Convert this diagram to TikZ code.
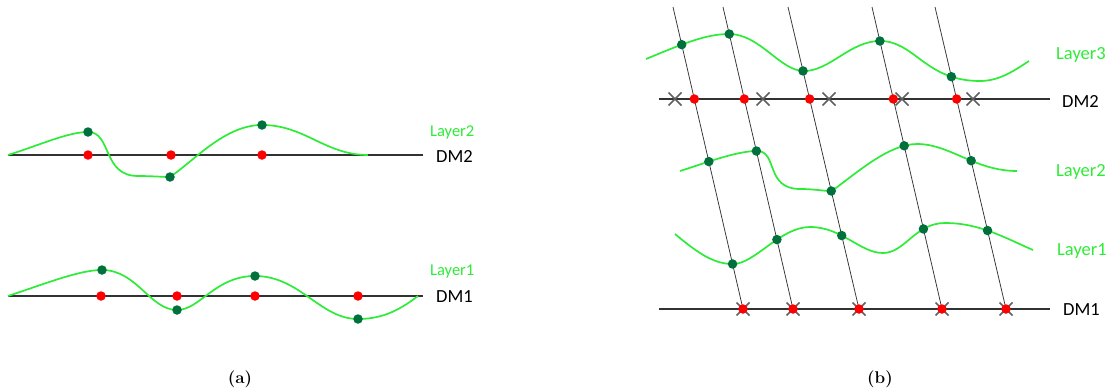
\documentclass[tikz,border=0pt]{standalone}
\usepackage{fontspec}
\newfontfamily\labelfont{Carlito}
\usetikzlibrary{intersections}

\definecolor{curvegreen}{RGB}{45,236,55}
\definecolor{dotgreen}{RGB}{0,112,60}
\definecolor{axisgray}{RGB}{50,50,50}
\definecolor{crossgray}{RGB}{95,95,95}

\tikzset{
  dmline/.style={draw=axisgray, line width=1.8pt},
  ray/.style={draw=axisgray, line width=0.75pt},
  layer/.style={draw=curvegreen, line width=1.7pt},
  gdot/.style={circle, fill=dotgreen, inner sep=0pt, minimum size=9.5pt},
  rdot/.style={circle, fill=red, inner sep=0pt, minimum size=9.5pt},
  xmark/.style={draw=crossgray, line width=1.5pt},
  xcross/.pic={\path[xmark] (-6.5,-6.5) -- (6.5,6.5) (-6.5,6.5) -- (6.5,-6.5);},
  laytext/.style={anchor=west, inner sep=0pt, text=curvegreen, font=\labelfont},
  dmtext/.style={anchor=west, inner sep=0pt, text=black, font=\labelfont},
  small/.style={font=\labelfont\fontsize{16.5}{19}\selectfont},
  large/.style={font=\labelfont\fontsize{18.5}{22}\selectfont},
  dmsize/.style={font=\labelfont\fontsize{18.5}{22}\selectfont},
  captext/.style={inner sep=0pt, font=\fontsize{17}{20}\selectfont\bfseries}
}

% dots where ray #1 meets DM2, DM1 and the three layers
\newcommand\raydots[1]{%
  \path[name intersections={of=ray#1 and bdm2, by={m2#1}}];
  \node[rdot] (br2#1) at (m2#1) {};
  \node[rdot] (br1#1) at (bot#1) {};
  \path[name intersections={of=ray#1 and lay3, by={g3#1}}];
  \node[gdot] (bg3#1) at (g3#1) {};
  \path[name intersections={of=ray#1 and lay2, by={g2#1}}];
  \node[gdot] (bg2#1) at (g2#1) {};
  \path[name intersections={of=ray#1 and lay1, by={g1#1}}];
  \node[gdot] (bg1#1) at (g1#1) {};
}

\begin{document}
\begin{tikzpicture}[x=1pt, y=-1pt]
\useasboundingbox (0,0) rectangle (1112,391);

% ---------------- panel (a) ----------------
\path[dmline] (8,155) coordinate (a2s) -- (423,155) coordinate (a2e);
\path[dmline] (8,296) coordinate (a1s) -- (423,296) coordinate (a1e);

% layer 2 over DM2
\path[layer] (8,155) .. controls (40,145) and (68,132) .. (88,132)
  .. controls (112,132) and (102,176) .. (138,176)
  .. controls (152,176) and (162,177) .. (170,177)
  .. controls (195,160) and (225,125) .. (262,125)
  .. controls (305,125) and (325,155) .. (368,155);

% layer 1 over DM1
\path[layer] (8,296) .. controls (50,282) and (80,270) .. (102,270)
  .. controls (137,270) and (150,310) .. (177,310)
  .. controls (200,310) and (215,276) .. (255,276)
  .. controls (300,276) and (320,319) .. (358,319)
  .. controls (385,319) and (402,308) .. (418,296);

\foreach \x [count=\i] in {88,171,262} \node[rdot] (ar2\i) at (\x,155) {};
\foreach \x [count=\i] in {101,177,255,358} \node[rdot] (ar1\i) at (\x,296) {};
\foreach \p [count=\i] in {{(88,132)},{(170,177)},{(262,125)}} \node[gdot] (ag2\i) at \p {};
\foreach \p [count=\i] in {{(102,270)},{(177,310)},{(255,276)},{(358,319)}} \node[gdot] (ag1\i) at \p {};

\node[laytext, small] (aL2) at (430,132) {Layer2};
\node[dmtext, dmsize] (aD2) at (436,156) {DM2};
\node[laytext, small] (aL1) at (430,272) {Layer1};
\node[dmtext, dmsize] (aD1) at (436,297) {DM1};

\node[captext] (capa) at (240,379) {(a)};

% ---------------- panel (b) ----------------
\path[dmline, name path=bdm2] (659,99) coordinate (b2s) -- (1050,99) coordinate (b2e);
\path[dmline] (659,309) coordinate (b1s) -- (1050,309) coordinate (b1e);

% slanted rays, each ending on DM1
\foreach \t/\b [count=\i] in {673/743, 723/793, 788/859, 872/942, 935/1006} {
  \coordinate (top\i) at (\t,7);
  \coordinate (bot\i) at (\b,309);
  \path[ray, name path global=ray\i] (top\i) -- (bot\i);
}

\path[layer, name path=lay3] (646,59) .. controls (680,45) and (705,34) .. (729,34)
  .. controls (760,34) and (780,71) .. (804,71)
  .. controls (830,71) and (850,41) .. (880,41)
  .. controls (915,41) and (925,81) .. (980,81)
  .. controls (1000,81) and (1015,70) .. (1029,61);

\path[layer, name path=lay2] (680,171) .. controls (700,165) and (735,151) .. (757,151)
  .. controls (778,151) and (765,189) .. (800,189)
  .. controls (815,189) and (822,191) .. (832,191)
  .. controls (860,170) and (890,144) .. (917,144)
  .. controls (950,144) and (975,171) .. (1017,171);

\path[layer, name path=lay1] (675,234) .. controls (700,255) and (715,264) .. (733,264)
  .. controls (755,264) and (780,227) .. (810,227)
  .. controls (842,227) and (860,253) .. (883,253)
  .. controls (905,253) and (915,223) .. (945,223)
  .. controls (980,223) and (1005,238) .. (1033,250);

% crosses below the dots
\foreach \x [count=\i] in {675,763,829,902,973} \pic (bx2\i) at (\x,99) {xcross};
\foreach \i in {1,...,5} \pic (bx1\i) at (bot\i) {xcross};

\raydots{1}
\raydots{2}
\raydots{3}
\raydots{4}
\raydots{5}

\node[laytext, large] (bL3) at (1056,55) {Layer3};
\node[dmtext, dmsize] (bD2) at (1062,101) {DM2};
\node[laytext, large] (bL2) at (1056,172) {Layer2};
\node[laytext, large] (bL1) at (1057,251) {Layer1};
\node[dmtext, dmsize] (bD1) at (1063,310) {DM1};

\node[captext] (capb) at (880,379) {(b)};
\end{tikzpicture}
\end{document}
